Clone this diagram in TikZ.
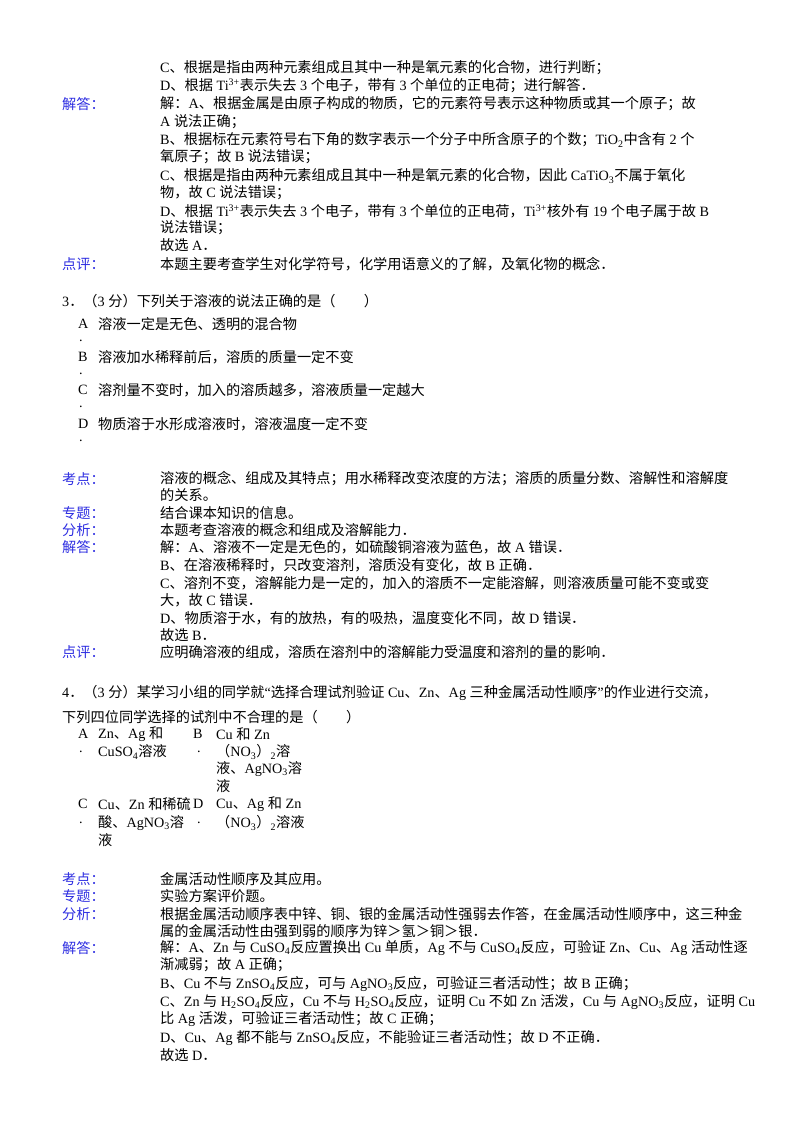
\documentclass[tikz,border=0pt]{standalone}
\usepackage{fontspec}
\setmainfont{Liberation Serif}
\newfontfamily\cjk{Noto Sans CJK SC}
\XeTeXinterchartokenstate=1
\newXeTeXintercharclass\cjkclass
\count255="4E00
\loop\XeTeXcharclass\count255=\cjkclass\ifnum\count255<"9FFF\advance\count255 by 1\repeat
\count255="3000
\loop\XeTeXcharclass\count255=\cjkclass\ifnum\count255<"303F\advance\count255 by 1\repeat
\count255="FF00
\loop\XeTeXcharclass\count255=\cjkclass\ifnum\count255<"FFEF\advance\count255 by 1\repeat
\XeTeXinterchartoks 0 \cjkclass = {\begingroup\cjk}
\XeTeXinterchartoks 4095 \cjkclass = {\begingroup\cjk}
\XeTeXinterchartoks \cjkclass 0 = {\endgroup}
\XeTeXinterchartoks \cjkclass 4095 = {\endgroup}
\definecolor{lblue}{RGB}{45,45,225}
\tikzset{t/.style={anchor=west,inner sep=0pt,font=\fontsize{14.2}{17}\selectfont},
 lab/.style={t,text=lblue}}
\newcommand\T[3]{\node[t] at (#1,#2) {#3};}
\newcommand\Lb[3]{\node[lab] at (#1,#2) {#3};}
\newcommand\sub[1]{\textsubscript{#1}}
\newcommand\sups[1]{\textsuperscript{#1}}
\begin{document}
\begin{tikzpicture}[x=1pt,y=-1pt]
\useasboundingbox (0,0) rectangle (800,1132);
\T{160}{68}{C、根据是指由两种元素组成且其中一种是氧元素的化合物，进行判断；}
\T{160}{86}{D、根据 Ti\sups{3+}表示失去 3 个电子，带有 3 个单位的正电荷；进行解答．}
\Lb{62}{104}{解答：}
\T{160}{104}{解：A、根据金属是由原子构成的物质，它的元素符号表示这种物质或其一个原子；故}
\T{160}{122}{A 说法正确；}
\T{160}{140}{B、根据标在元素符号右下角的数字表示一个分子中所含原子的个数；TiO\sub{2}中含有 2 个}
\T{160}{157}{氧原子；故 B 说法错误；}
\T{160}{176}{C、根据是指由两种元素组成且其中一种是氧元素的化合物，因此 CaTiO\sub{3}不属于氧化}
\T{160}{193}{物，故 C 说法错误；}
\T{160}{211}{D、根据 Ti\sups{3+}表示失去 3 个电子，带有 3 个单位的正电荷，Ti\sups{3+}核外有 19 个电子属于故 B}
\T{160}{228}{说法错误；}
\T{160}{245}{故选 A．}
\Lb{62}{264}{点评：}
\T{160}{264}{本题主要考查学生对化学符号，化学用语意义的了解，及氧化物的概念．}
\T{62}{301}{3．（3 分）下列关于溶液的说法正确的是（\quad\quad）}
\T{78}{324}{A}\T{98}{324}{溶液一定是无色、透明的混合物}
\T{79}{341}{.}
\T{78}{357}{B}\T{98}{357}{溶液加水稀释前后，溶质的质量一定不变}
\T{79}{374}{.}
\T{78}{390}{C}\T{98}{390}{溶剂量不变时，加入的溶质越多，溶液质量一定越大}
\T{79}{407}{.}
\T{78}{424}{D}\T{98}{424}{物质溶于水形成溶液时，溶液温度一定不变}
\T{79}{441}{.}
\Lb{62}{479}{考点：}
\T{160}{479}{溶液的概念、组成及其特点；用水稀释改变浓度的方法；溶质的质量分数、溶解性和溶解度}
\T{160}{495}{的关系。}
\Lb{62}{513}{专题：}\T{160}{513}{结合课本知识的信息。}
\Lb{62}{530}{分析：}\T{160}{530}{本题考查溶液的概念和组成及溶解能力．}
\Lb{62}{547}{解答：}\T{160}{547}{解：A、溶液不一定是无色的，如硫酸铜溶液为蓝色，故 A 错误．}
\T{160}{565}{B、在溶液稀释时，只改变溶剂，溶质没有变化，故 B 正确．}
\T{160}{583}{C、溶剂不变，溶解能力是一定的，加入的溶质不一定能溶解，则溶液质量可能不变或变}
\T{160}{600}{大，故 C 错误．}
\T{160}{618}{D、物质溶于水，有的放热，有的吸热，温度变化不同，故 D 错误．}
\T{160}{635}{故选 B．}
\Lb{62}{652}{点评：}\T{160}{652}{应明确溶液的组成，溶质在溶剂中的溶解能力受温度和溶剂的量的影响．}
\T{62}{693}{4．（3 分）某学习小组的同学就“选择合理试剂验证 Cu、Zn、Ag 三种金属活动性顺序”的作业进行交流，}
\T{62}{717}{下列四位同学选择的试剂中不合理的是（\quad\quad）}
\T{78}{734}{A}\T{98}{734}{Zn、Ag 和}
\T{79}{752}{.}\T{98}{752}{CuSO\sub{4}溶液}
\T{193}{734}{B}\T{216}{734}{Cu 和 Zn}
\T{197}{752}{.}\T{216}{752}{（NO\sub{3}）\sub{2}溶}
\T{216}{769}{液、AgNO\sub{3}溶}
\T{216}{786}{液}
\T{78}{804}{C}\T{98}{804}{Cu、Zn 和稀硫}
\T{193}{804}{D}\T{216}{804}{Cu、Ag 和 Zn}
\T{79}{823}{.}\T{98}{823}{酸、AgNO\sub{3}溶}
\T{197}{823}{.}\T{216}{823}{（NO\sub{3}）\sub{2}溶液}
\T{98}{840}{液}
\Lb{62}{879}{考点：}\T{160}{879}{金属活动性顺序及其应用。}
\Lb{62}{896}{专题：}\T{160}{896}{实验方案评价题。}
\Lb{62}{914}{分析：}\T{160}{914}{根据金属活动顺序表中锌、铜、银的金属活动性强弱去作答，在金属活动性顺序中，这三种金}
\T{160}{931}{属的金属活动性由强到弱的顺序为锌＞氢＞铜＞银．}
\Lb{62}{948}{解答：}\T{160}{948}{解：A、Zn 与 CuSO\sub{4}反应置换出 Cu 单质，Ag 不与 CuSO\sub{4}反应，可验证 Zn、Cu、Ag 活动性逐}
\T{160}{965}{渐减弱；故 A 正确；}
\T{160}{984}{B、Cu 不与 ZnSO\sub{4}反应，可与 AgNO\sub{3}反应，可验证三者活动性；故 B 正确；}
\T{160}{1002}{C、Zn 与 H\sub{2}SO\sub{4}反应，Cu 不与 H\sub{2}SO\sub{4}反应，证明 Cu 不如 Zn 活泼，Cu 与 AgNO\sub{3}反应，证明 Cu}
\T{160}{1019}{比 Ag 活泼，可验证三者活动性；故 C 正确；}
\T{160}{1038}{D、Cu、Ag 都不能与 ZnSO\sub{4}反应，不能验证三者活动性；故 D 不正确．}
\T{160}{1055}{故选 D．}
\end{tikzpicture}
\end{document}
